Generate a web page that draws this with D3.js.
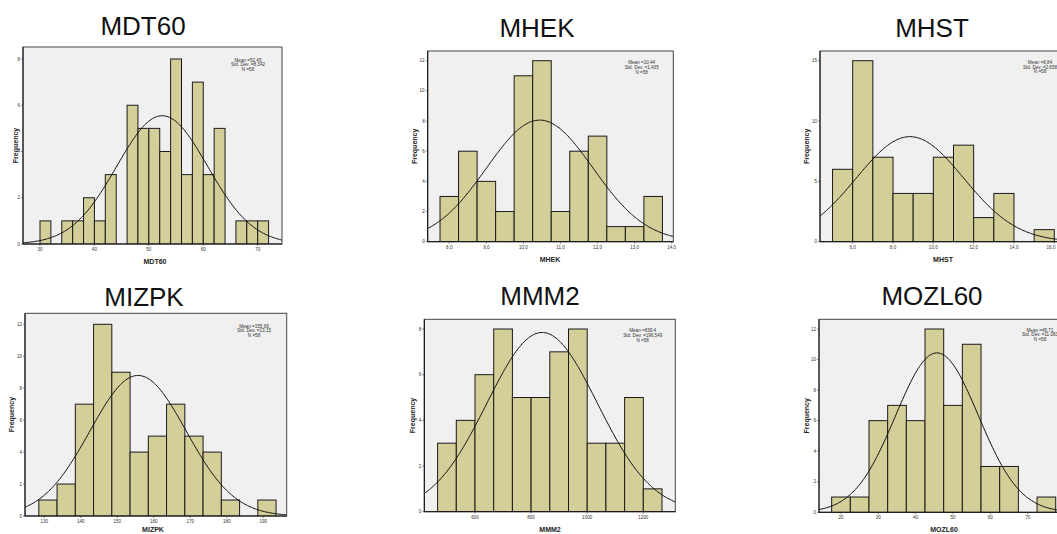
<!DOCTYPE html>
<html>
<head>
<meta charset="utf-8">
<script src="https://cdn.jsdelivr.net/npm/d3@7"></script>
<style>
  body { margin: 0; background: #fff; }
  svg { display: block; }
  .ttl { font-family: "Liberation Sans", Arial, sans-serif; font-size: 26px; fill: #111; }
  .tick { font-family: "Liberation Sans", Arial, sans-serif; font-size: 4.6px; fill: #333; }
  .stat { font-family: "Liberation Sans", Arial, sans-serif; font-size: 4.6px; fill: #333; }
  .axt { font-family: "Liberation Sans", Arial, sans-serif; font-size: 7px; font-weight: bold; fill: #222; }
</style>
</head>
<body>
<div id="chart"></div>
<script>
// variable names
var names = ['MDT60', 'MHEK', 'MHST', 'MIZPK', 'MMM2', 'MOZL60'];

// histogram bins: first lower edge, bin width, counts
var binStart = [30, 7.75, 5, 128.5, 466.67, 17.5];
var binWidth = [2, 0.5, 1, 5, 66.67, 5];
var counts = [
  [1, 0, 1, 1, 2, 1, 3, 0, 6, 5, 5, 4, 8, 3, 7, 3, 5, 0, 1, 1, 1],
  [3, 6, 4, 2, 11, 12, 2, 6, 7, 1, 1, 3],
  [6, 15, 7, 4, 4, 7, 8, 2, 4, 0, 1],
  [1, 2, 7, 12, 9, 4, 5, 7, 5, 4, 1, 0, 1],
  [3, 4, 6, 8, 5, 5, 7, 8, 3, 3, 5, 1],
  [1, 1, 6, 7, 6, 12, 7, 11, 3, 3, 0, 1]
];

// statistics shown in the box
var means = [52.45, 10.44, 8.84, 155.69, 839.4, 45.71];
var sds = [8.342, 1.435, 2.658, 13.15, 196.549, 11.083];
var nobs = [58, 58, 58, 58, 58, 58];
var meanText = ['52,45', '10,44', '8,84', '155,69', '839,4', '45,71'];
var sdText = ['8,342', '1,435', '2,658', '13,15', '196,549', '11,083'];

// ticks
var xTicks = [
  [30, 40, 50, 60, 70],
  [8, 9, 10, 11, 12, 13, 14],
  [6, 8, 10, 12, 14, 16],
  [130, 140, 150, 160, 170, 180, 190],
  [600, 800, 1000, 1200],
  [20, 30, 40, 50, 60, 70]
];
var xDec = [0, 1, 1, 0, 0, 0];
var yTicks = [
  [0, 2, 4, 6, 8],
  [0, 2, 4, 6, 8, 10, 12],
  [0, 5, 10, 15],
  [0, 2, 4, 6, 8, 10, 12],
  [0, 2, 4, 6, 8],
  [0, 2, 4, 6, 8, 10, 12]
];

// layout: plot box in pixels and where two reference values land
var layout = [
  {l: 23, r: 282, t: 47, b: 244, xd: [30, 70], xr: [40, 257.7], yTop: 8, yTopPx: 59, tx: 143, ty: 35, st: [248, 60], fy: 15.7, xl: [155, 261]},
  {l: 427.7, r: 673.3, t: 51, b: 241.7, xd: [8, 14], xr: [449.3, 671.7], yTop: 12, yTopPx: 60.7, tx: 537, ty: 37, st: [641.7, 62.7], fy: 414.3, xl: [550, 259]},
  {l: 820, r: 1080, t: 51, b: 241.7, xd: [6, 16], xr: [852.7, 1054.3], yTop: 15, yTopPx: 60.7, tx: 932, ty: 37, st: [1040, 62.3], fy: 806.7, xl: [943, 259.5]},
  {l: 25, r: 286.7, t: 313.3, b: 516, xd: [130, 190], xr: [44.3, 263.3], yTop: 12, yTopPx: 324.3, tx: 144, ty: 306, st: [254, 326], fy: 11.7, xl: [153, 529.5]},
  {l: 424.3, r: 675.3, t: 319.3, b: 511.7, xd: [600, 1200], xr: [475, 643.3], yTop: 8, yTopPx: 329, tx: 540, ty: 305, st: [642.7, 330.7], fy: 412.7, xl: [550, 529]},
  {l: 819, r: 1080, t: 319.3, b: 512.3, xd: [20, 70], xr: [841, 1027.7], yTop: 12, yTopPx: 329, tx: 932, ty: 305, st: [1040, 330], fy: 806.7, xl: [944, 529]}
];

var W = 1057, H = 534;
var svg = d3.select('#chart').append('svg').attr('width', W).attr('height', H);

function fmt(v, dec) {
  return v.toFixed(dec).replace('.', ',');
}

names.forEach(function(name, i) {
  var L = layout[i];
  var x = d3.scaleLinear().domain(L.xd).range(L.xr);
  var y = d3.scaleLinear().domain([0, L.yTop]).range([L.b, L.yTopPx]);
  var g = svg.append('g');

  g.append('clipPath').attr('id', 'clip' + i)
    .append('rect').attr('x', L.l).attr('y', L.t).attr('width', L.r - L.l).attr('height', L.b - L.t);

  // title
  g.append('text').attr('class', 'ttl').attr('x', L.tx).attr('y', L.ty)
    .attr('text-anchor', 'middle').text(name);

  // plot background
  g.append('rect').attr('x', L.l).attr('y', L.t).attr('width', L.r - L.l).attr('height', L.b - L.t)
    .attr('fill', '#f0f0f0').attr('stroke', '#444').attr('stroke-width', 1);

  var plot = g.append('g').attr('clip-path', 'url(#clip' + i + ')');

  var bins = counts[i].map(function(c, k) {
    return {x0: binStart[i] + k * binWidth[i], x1: binStart[i] + (k + 1) * binWidth[i], c: c};
  }).filter(function(d) { return d.c > 0; });

  plot.selectAll('rect.bar').data(bins).enter().append('rect')
    .attr('class', 'bar')
    .attr('x', function(d) { return x(d.x0); })
    .attr('y', function(d) { return y(d.c); })
    .attr('width', function(d) { return x(d.x1) - x(d.x0); })
    .attr('height', function(d) { return y(0) - y(d.c); })
    .attr('fill', '#d4cf99')
    .attr('stroke', '#1a1a1a')
    .attr('stroke-width', 1);

  // normal curve from the mean / sd shown in the box
  var lo = x.invert(L.l), hi = x.invert(L.r);
  var pts = d3.range(0, 201).map(function(k) {
    var v = lo + (hi - lo) * k / 200;
    var z = (v - means[i]) / sds[i];
    var f = nobs[i] * binWidth[i] / (sds[i] * Math.sqrt(2 * Math.PI)) * Math.exp(-0.5 * z * z);
    return [v, f];
  });
  plot.append('path').datum(pts)
    .attr('d', d3.line().x(function(d) { return x(d[0]); }).y(function(d) { return y(d[1]); }).curve(d3.curveBasis))
    .attr('fill', 'none').attr('stroke', '#111').attr('stroke-width', 1);

  // axes lines
  g.append('line').attr('x1', L.l).attr('x2', L.l).attr('y1', L.t).attr('y2', L.b).attr('stroke', '#111');
  g.append('line').attr('x1', L.l).attr('x2', L.r).attr('y1', L.b).attr('y2', L.b).attr('stroke', '#111');

  // y ticks
  yTicks[i].forEach(function(t) {
    g.append('line').attr('x1', L.l - 2).attr('x2', L.l).attr('y1', y(t)).attr('y2', y(t))
      .attr('stroke', '#333').attr('stroke-width', 0.6);
    g.append('text').attr('class', 'tick').attr('x', L.l - 3).attr('y', y(t) + 1.5)
      .attr('text-anchor', 'end').text(t);
  });
  // x ticks (labels kept inside the page)
  xTicks[i].forEach(function(t) {
    g.append('line').attr('x1', x(t)).attr('x2', x(t)).attr('y1', L.b).attr('y2', L.b + 2)
      .attr('stroke', '#333').attr('stroke-width', 0.6);
    var tx = Math.min(x(t), W - 6);
    g.append('text').attr('class', 'tick').attr('x', tx).attr('y', L.b + 7)
      .attr('text-anchor', 'middle').text(fmt(t, xDec[i]));
  });

  // axis titles
  g.append('text').attr('class', 'axt')
    .attr('transform', 'translate(' + (L.fy + 2.5) + ',' + ((L.t + L.b) / 2) + ') rotate(-90)')
    .attr('text-anchor', 'middle').text('Frequency');
  g.append('text').attr('class', 'axt').attr('x', L.xl[0]).attr('y', L.xl[1] + 2.5)
    .attr('text-anchor', 'middle').text(name);

  // stats
  var lines = ['Mean =' + meanText[i], 'Std. Dev. =' + sdText[i], 'N =' + nobs[i]];
  lines.forEach(function(s, k) {
    var sx = Math.min(L.st[0], W - 15);
    g.append('text').attr('class', 'stat').attr('x', sx).attr('y', L.st[1] + 1.6 + k * 4.6)
      .attr('text-anchor', 'middle').text(s);
  });
});
</script>
</body>
</html>
